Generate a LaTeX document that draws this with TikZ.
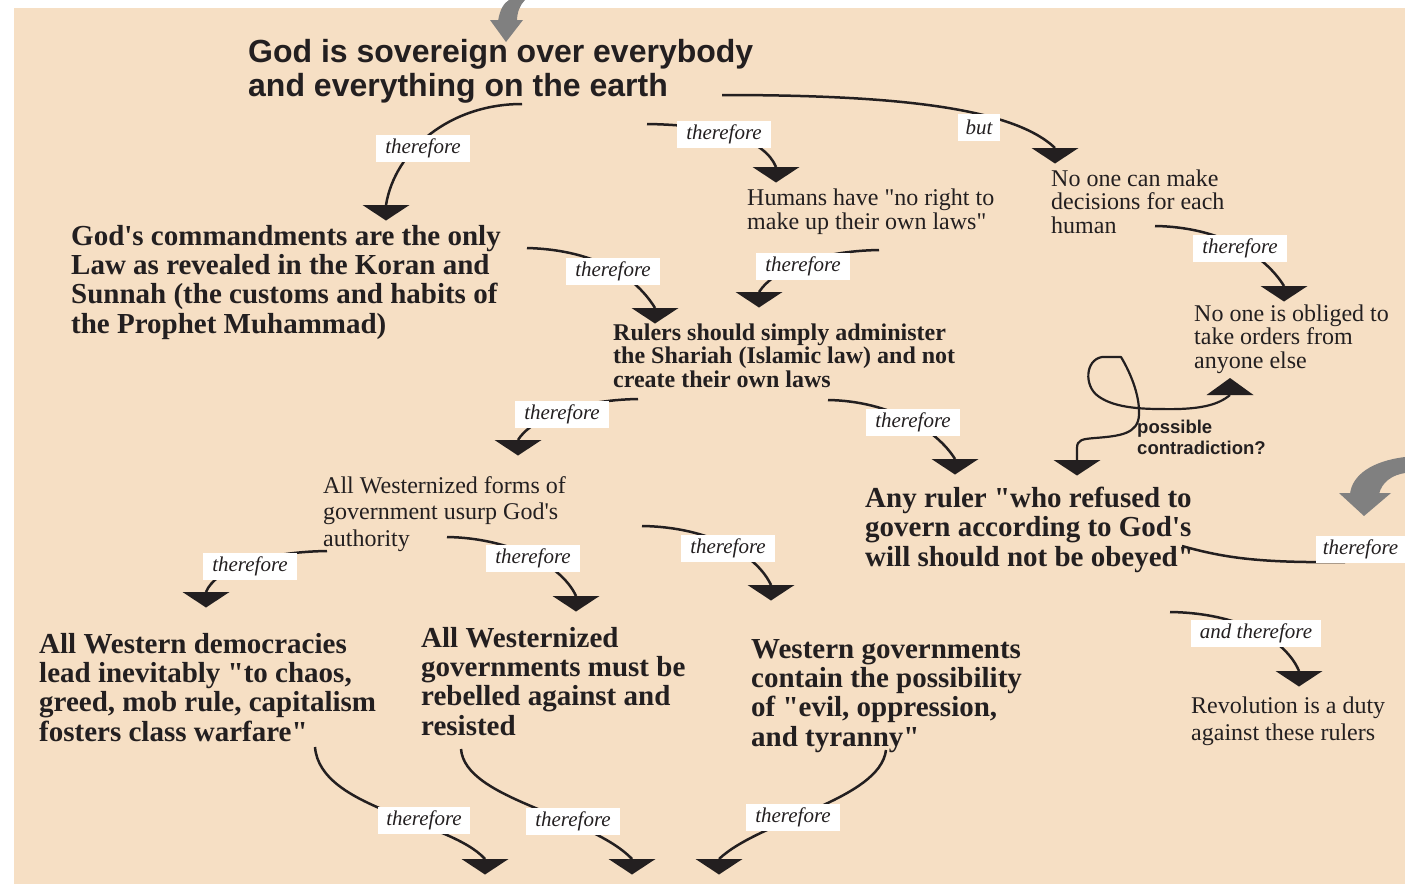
\documentclass[tikz,border=0pt]{standalone}
\usepackage{fontspec}
\setmainfont{Liberation Serif}[Ligatures=TeXOff]
\setsansfont{Liberation Sans}[Ligatures=TeXOff]
\definecolor{bg}{HTML}{F6DFC4}
\definecolor{ink}{HTML}{231F20}
\definecolor{arrowgray}{HTML}{808080}
\begin{document}
\begin{tikzpicture}[x=1pt,y=-1pt,
  txt/.style={anchor=base west, inner sep=0pt, align=left, text=ink},
  ttl/.style={txt, font=\fontsize{32}{34}\selectfont\sffamily\bfseries},
  bigb/.style={txt, font=\fontsize{29}{29.3}\selectfont\bfseries},
  midb/.style={txt, font=\fontsize{24}{23.7}\selectfont\bfseries},
  midr/.style={txt, font=\fontsize{24}{23.7}\selectfont},
  note/.style={txt, font=\fontsize{18.5}{21}\selectfont\sffamily\bfseries},
  lbl/.style={fill=white, inner sep=0pt, minimum width=94, minimum height=27, text=ink,
    font=\fontsize{21}{21}\selectfont\itshape},
  conn/.style={draw=ink, line width=2.5pt},
  loopline/.style={draw=ink, line width=2.2pt, line join=round},
  dtri/.pic={\fill[ink] (-23.5,0) -- (23.5,0) -- (0,15.5) -- cycle;},
  utri/.pic={\fill[ink] (-23.5,0) -- (23.5,0) -- (0,-17) -- cycle;},
  grayarrow/.style={fill=arrowgray}
]
\useasboundingbox (0,0) rectangle (1405,884);
\fill[bg] (14,8) rectangle (1405,884);

% gray arrows
\fill[grayarrow] (498,21) .. controls (500,9) and (504,3) .. (509,0) -- (525,0)
  .. controls (520,5) and (517,12) .. (517,21) -- cycle;
\fill[grayarrow] (490,20) -- (523,20) -- (506,42) -- cycle;
\fill[grayarrow] (1405,457) .. controls (1372,461) and (1352,475) .. (1350,494)
  -- (1379,494) .. controls (1382,482) and (1392,475) .. (1405,473) -- cycle;
\fill[grayarrow] (1339,493) -- (1391,493) -- (1364,516) -- cycle;

% connector end points
\coordinate (s1) at (522,104);   \coordinate (t1) at (386,205);
\coordinate (s2) at (647,124);   \coordinate (t2) at (776,167);
\coordinate (s3) at (722,95);    \coordinate (t3) at (1055,148);
\coordinate (s4) at (527,248);   \coordinate (t5) at (655,308);
\coordinate (s5) at (879,250);   \coordinate (t6) at (759,292);
\coordinate (s6) at (1155,226);  \coordinate (t4) at (1284,286);
\coordinate (s7) at (638,399);   \coordinate (t9) at (518,440);
\coordinate (s8) at (828,400);   \coordinate (t10) at (955,459);
\coordinate (s9) at (327,551);   \coordinate (t11) at (206,592);
\coordinate (s10) at (447,537);  \coordinate (t12) at (576,596);
\coordinate (s11) at (642,526);  \coordinate (t13) at (771,585);
\coordinate (s12) at (1182,546); \coordinate (e12) at (1345,562);
\coordinate (s13) at (1170,612); \coordinate (t14) at (1299,671);
\coordinate (s14) at (315,747);  \coordinate (t15) at (485,859);
\coordinate (s15) at (461,749);  \coordinate (t16) at (632,859);
\coordinate (s16) at (886,750);  \coordinate (t17) at (719,859);
\coordinate (t8) at (1077,460);  \coordinate (t7) at (1230,395);

% connectors
\draw[conn] (s1) .. controls (450,104) and (395,150) .. (t1);
\draw[conn] (s2) .. controls (720,125) and (765,140) .. (t2);
\draw[conn] (s3) .. controls (880,95) and (1010,105) .. (t3);
\draw[conn] (s4) .. controls (600,250) and (638,280) .. (t5);
\draw[conn] (s5) .. controls (820,251) and (775,268) .. (t6);
\draw[conn] (s6) .. controls (1220,227) and (1265,255) .. (t4);
\draw[conn] (s7) .. controls (575,400) and (530,420) .. (t9);
\draw[conn] (s8) .. controls (890,401) and (937,430) .. (t10);
\draw[conn] (s9) .. controls (260,552) and (215,570) .. (t11);
\draw[conn] (s10) .. controls (510,538) and (562,565) .. (t12);
\draw[conn] (s11) .. controls (710,527) and (757,555) .. (t13);
\draw[conn] (s12) .. controls (1225,558) and (1260,563) .. (e12);
\draw[conn] (s13) .. controls (1240,613) and (1286,640) .. (t14);
\draw[conn] (s14) .. controls (320,810) and (450,820) .. (t15);
\draw[conn] (s15) .. controls (465,800) and (590,815) .. (t16);
\draw[conn] (s16) .. controls (880,800) and (760,820) .. (t17);
\draw[loopline] (t8) -- (1077,448) .. controls (1077,440) and (1082,439) .. (1095,438)
  .. controls (1120,436) and (1138,434) .. (1139,415)
  .. controls (1140,395) and (1130,372) .. (1121,357) -- (1102,357)
  .. controls (1085,360) and (1084,386) .. (1098,396)
  .. controls (1110,405) and (1130,409) .. (1160,409)
  .. controls (1200,410) and (1218,405) .. (t7);

% arrowheads
\foreach \t in {t1,t2,t3,t4,t5,t6,t8,t9,t10,t11,t12,t13,t14,t15,t16,t17}
  \pic at (\t) {dtri};
\pic at (t7) {utri};

% labels
\node[lbl] (l1) at (423,148) {therefore};
\node[lbl] (l2) at (724,134) {therefore};
\node[lbl, minimum width=42] (lbut) at (979,127.5) {but};
\node[lbl] (l4) at (613,271.5) {therefore};
\node[lbl] (l5) at (803,266.5) {therefore};
\node[lbl] (l6) at (1240,248.5) {therefore};
\node[lbl] (l7) at (562,414.5) {therefore};
\node[lbl] (l8) at (913,422.5) {therefore};
\node[lbl] (l9) at (250,566.5) {therefore};
\node[lbl] (l10) at (533,558.5) {therefore};
\node[lbl] (l11) at (728,548.5) {therefore};
\node[lbl, minimum width=89] (l12) at (1360.5,549.5) {therefore};
\node[lbl, minimum width=130] (l13) at (1256,633.5) {and therefore};
\node[lbl, minimum width=92] (l14) at (424,820.5) {therefore};
\node[lbl] (l15) at (573,821.5) {therefore};
\node[lbl] (l16) at (793,817.5) {therefore};

% statements (base anchor = baseline of the last line)
\node[ttl] (god) at (248,96) {God is sovereign over everybody\\and everything on the earth};
\node[bigb] (law) at (71,333) {God's commandments are the only\\Law as revealed in the Koran and\\Sunnah (the customs and habits of\\the Prophet Muhammad)};
\node[midr, font=\fontsize{24}{24}\selectfont] (humans) at (747,229) {Humans have "no right to\\make up their own laws"};
\node[midr] (noone) at (1051,233.5) {No one can make\\decisions for each\\human};
\node[midr] (obliged) at (1194,368.5) {No one is obliged to\\take orders from\\anyone else};
\node[midb] (rulers) at (613,387.5) {Rulers should simply administer\\the Shariah (Islamic law) and not\\create their own laws};
\node[midr, font=\fontsize{24}{26.5}\selectfont] (usurp) at (323,546) {All Westernized forms of\\government usurp God's\\authority};
\node[bigb, font=\fontsize{29}{29.5}\selectfont\bfseries] (anyruler) at (865,566) {Any ruler "who refused to\\govern according to God's\\will should not be obeyed"};
\node[note] (contra) at (1137,454) {possible\\contradiction?};
\node[bigb] (chaos) at (39,741) {All Western democracies\\lead inevitably "to chaos,\\greed, mob rule, capitalism\\fosters class warfare"};
\node[bigb] (rebel) at (421,735) {All Westernized\\governments must be\\rebelled against and\\resisted};
\node[bigb] (tyranny) at (751,746) {Western governments\\contain the possibility\\of "evil, oppression,\\and tyranny"};
\node[midr, font=\fontsize{24}{27}\selectfont] (revolution) at (1191,740) {Revolution is a duty\\against these rulers};
\end{tikzpicture}
\end{document}
